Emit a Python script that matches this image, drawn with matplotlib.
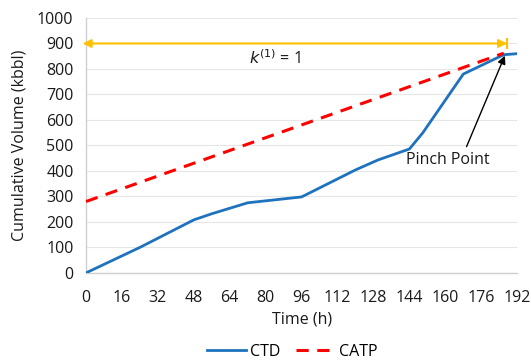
import numpy as np
import matplotlib.pyplot as plt

# Cumulative tank discharge (CTD) and cumulative available transport (CATP)
ctd_hours = [0, 24, 48, 56, 72, 96, 120, 130, 144, 150, 168, 186, 192]
ctd_volume = [0, 100, 208, 232, 275, 298, 404, 443, 486, 550, 780, 856, 860]
catp_hours = [0, 186]
catp_volume = [280, 862]

x_ticks = list(range(0, 193, 16))
y_ticks = list(range(0, 1001, 100))

k_span = (-1.5, 187.5, 900)
pinch_point = (186.5, 852)

plt.rcParams['font.family'] = ['Open Sans', 'DejaVu Sans']
fs = 11.5

fig = plt.figure(figsize=(5.31, 3.6), dpi=100)
ax = fig.add_axes([0.162, 0.242, 0.812, 0.708])

ax.plot(ctd_hours, ctd_volume, color='#1F72BE', lw=2.0, label='CTD', zorder=3)
ax.plot(catp_hours, catp_volume, color='#FF0000', lw=2.2, dashes=(4, 2.8),
        label='CATP', zorder=4)

# k arrow across the horizon
ax.annotate('', xy=(k_span[1], k_span[2]), xytext=(k_span[0], k_span[2]),
            arrowprops=dict(arrowstyle='<|-|>', color='#FFC000', lw=1.5,
                            mutation_scale=12, shrinkA=0, shrinkB=0),
            annotation_clip=False, zorder=5)
ax.plot([k_span[1], k_span[1]], [k_span[2] - 18, k_span[2] + 18],
        color='#FFC000', lw=1.5, zorder=5)
ax.text(84, 840, r'$k^{(1)}$ = 1', fontsize=fs, ha='center', va='center',
        color='#1A1A1A')

ax.annotate('Pinch Point', xy=pinch_point, xytext=(161, 443),
            ha='center', va='center', fontsize=fs, color='#1A1A1A',
            arrowprops=dict(arrowstyle='-|>', color='black', lw=1.0,
                            mutation_scale=12, shrinkA=2, shrinkB=0,
                            relpos=(0.7, 1.0)),
            zorder=6)

ax.set_xlim(0, 192)
ax.set_ylim(0, 1000)
ax.set_xticks(x_ticks)
ax.set_yticks(y_ticks)
ax.tick_params(axis='x', length=0, labelsize=fs, colors='#1A1A1A', pad=12)
ax.tick_params(axis='y', length=0, labelsize=fs, colors='#1A1A1A', pad=9)
ax.grid(axis='y', color='#E6E6E6', lw=0.8)
ax.set_axisbelow(True)
for side in ['top', 'right']:
    ax.spines[side].set_visible(False)
for side in ['left', 'bottom']:
    ax.spines[side].set_color('#D0D0D0')
    ax.spines[side].set_linewidth(1.0)

ax.set_xlabel('Time (h)', fontsize=fs, color='#1A1A1A', labelpad=4)
ax.set_ylabel('Cumulative Volume (kbbl)', fontsize=fs, color='#1A1A1A', labelpad=7)

fig.legend(loc='lower center', bbox_to_anchor=(0.55, -0.04), ncol=2,
           frameon=False, fontsize=fs, handlelength=2.5, columnspacing=1.0,
           handletextpad=0.2)

fig.savefig('out.png', dpi=100)
